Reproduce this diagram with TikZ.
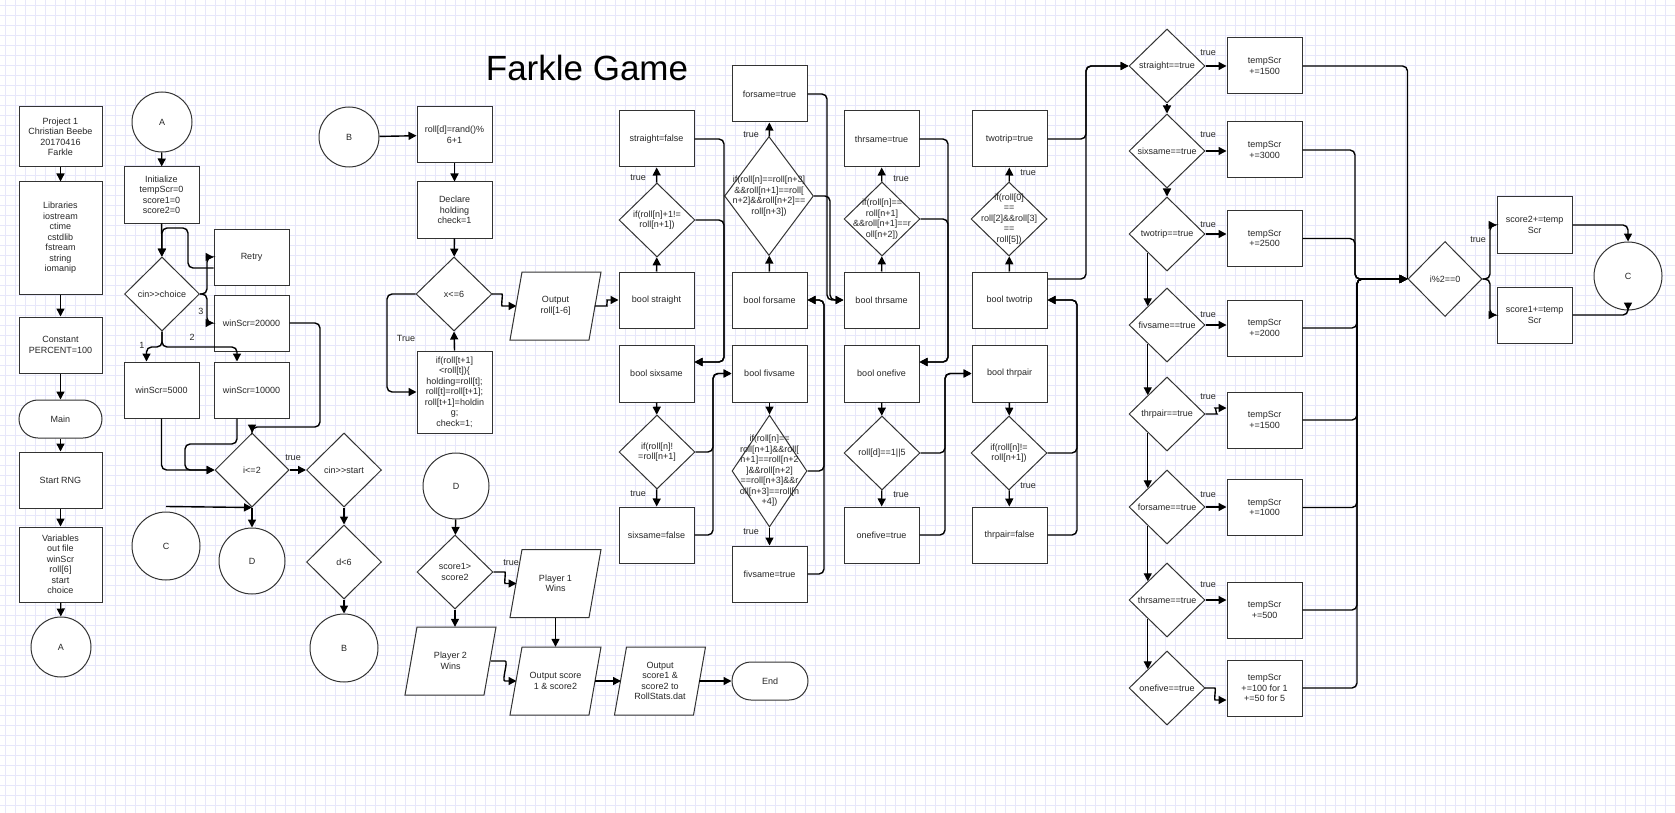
\documentclass[tikz,border=0pt]{standalone}
\usepackage{fontspec}
\setmainfont{Liberation Sans}
\usetikzlibrary{shapes.geometric,arrows.meta}
\definecolor{gridc}{RGB}{231,231,250}
\definecolor{edgec}{RGB}{51,51,51}
\newcommand{\mkpara}[3]{%
  \begin{scope}[shift={#2}]
    \draw[base] (-45.5,34) -- (33.5,34) -- (45.5,-34) -- (-33.5,-34) -- cycle;
  \end{scope}
  \node[rectangle, inner sep=0pt, minimum width=79pt, minimum height=68pt, txt={#3}] (#1) at #2 {};}
\begin{document}
\begin{tikzpicture}[x=1pt,y=-1pt,
  base/.style={draw=edgec, line width=1pt, fill=white, inner sep=0pt},
  box/.style={base, rectangle, minimum width=75pt, minimum height=56pt},
  dia/.style={base, diamond, minimum width=76pt, minimum height=74pt},
  circ/.style={base, circle, minimum size=#1},
  pill/.style={base, rectangle, rounded corners=19pt, minimum width=#1, minimum height=38pt},
  lbl/.style={align=center, font=\fontsize{9}{10.5}\selectfont, text=black!85, inner sep=0pt},
  txt/.style={label={[lbl]center:{#1}}},
  conn/.style={line width=1.4pt, rounded corners=5pt, -{Triangle[length=8pt,width=8pt]}},
  plain/.style={line width=1.4pt, rounded corners=5pt},
  tl/.style={font=\fontsize{9}{10}\selectfont, inner sep=0pt, text=black!85}
]
\useasboundingbox (0,0) rectangle (1675,813);
\fill[white] (0,0) rectangle (1675,813);
\foreach \i in {5,15,...,1675} \draw[gridc, line width=0.6pt] (\i,0) -- (\i,813);
\foreach \j in {5,15,...,813} \draw[gridc, line width=0.6pt] (0,\j) -- (1675,\j);

\node[font=\fontsize{35}{40}\selectfont, inner sep=0pt] (title) at (587,68) {Farkle Game};

% ---------- left column
\node[box, minimum width=83pt, minimum height=60pt, txt={Project 1\\Christian Beebe\\20170416\\Farkle}] (proj) at (60.5,137) {};
\node[box, minimum width=83pt, minimum height=112pt, txt={Libraries\\iostream\\ctime\\cstdlib\\fstream\\string\\iomanip}] (libs) at (60.5,238) {};
\node[box, minimum width=83pt, minimum height=56pt, txt={Constant\\PERCENT=100}] (const) at (60.5,345) {};
\node[pill=83pt, txt={Main}] (main) at (60.5,419) {};
\node[box, minimum width=83pt, minimum height=56pt, txt={Start RNG}] (rng) at (60.5,480) {};
\node[box, minimum width=83pt, minimum height=75pt, txt={Variables\\out file\\winScr\\roll[6]\\start\\choice}] (vars) at (60.5,564.5) {};
\node[circ=60pt, txt={A}] (cA1) at (61,647) {};
\draw[conn] (proj) -- (libs);
\draw[conn] (libs) -- (const);
\draw[conn] (const) -- (main);
\draw[conn] (main) -- (rng);
\draw[conn] (rng) -- (vars);
\draw[conn] (vars) -- (cA1);

% ---------- second column
\node[circ=60pt, txt={A}] (cA2) at (162,122) {};
\node[box, txt={Initialize\\tempScr=0\\score1=0\\score2=0}] (init) at (161.5,195) {};
\node[dia, minimum width=75pt, txt={cin>{}>choice}] (choice) at (162,294) {};
\node[box, txt={Retry}] (retry) at (251.5,257) {};
\node[box, txt={winScr=20000}] (w20) at (251.5,323) {};
\node[box, txt={winScr=5000}] (w5) at (161.5,390) {};
\node[box, txt={winScr=10000}] (w10) at (251.5,390) {};
\node[dia, minimum width=74pt, txt={i<=2}] (iLE) at (252,470) {};
\node[circ=68pt, txt={C}] (cC1) at (166,546) {};
\node[circ=66pt, txt={D}] (cD1) at (252,561) {};
\node[dia, minimum width=75pt, txt={cin>{}>start}] (start) at (344,470) {};
\node[dia, minimum width=75pt, txt={d<6}] (dlt) at (344,562) {};
\node[circ=68pt, txt={B}] (cB1) at (344,648) {};

\draw[conn] (cA2) -- (init);
\draw[conn] (init) -- (choice);
\draw[conn] ([yshift=-11pt]retry.west) -| (188,228) -| (choice.north);
\draw[conn] (choice.east) -| (207,257) -- (retry.west);
\draw[conn] (choice.east) -| (207,323) -- (w20.west);
\draw[conn] (choice.south) -- (162,347) -| ([xshift=-15pt]w5.north);
\draw[conn] (choice.south) -- (162,347) -| ([xshift=-14.5pt]w10.north);
\node[tl] (l3) at (201,311) {3};
\node[tl] (l2) at (192,337) {2};
\node[tl] (l1) at (142,345) {1};
\draw[conn] (w5.south) |- (iLE.west);
\draw[conn] ([xshift=-14.5pt]w10.south) |- (185,444) |- (iLE.west);
\draw[conn] (w20.east) -| (320,427) -| (iLE.north);
\draw[conn] (iLE.east) -- (start.west);
\node[tl] (ltrue1) at (293,458) {true};
\draw[conn] ([yshift=5pt]cC1.north) -- (iLE.south);
\draw[conn] (iLE.south) -- (cD1.north);
\draw[conn] (start.south) -- (dlt.north);
\draw[conn] (dlt.south) -- (cB1.north);

% ---------- third column
\node[circ=60pt, txt={B}] (cB2) at (349,137) {};
\node[box, txt={roll[d]=rand()\%\\6+1}] (rand) at (454.5,135) {};
\node[box, txt={Declare\\holding\\check=1}] (decl) at (454.5,210) {};
\node[dia, txt={x<=6}] (xle) at (454,294) {};
\node[box, minimum height=82pt, txt={if(roll[t+1]\\<roll[t])\{\\holding=roll[t];\\roll[t]=roll[t+1];\\roll[t+1]=holdin\\g;\\check=1;}] (sortb) at (454.5,392) {};
\mkpara{outroll}{(555.5,306)}{Output\\roll[1-6]}
\draw[conn] (cB2) -- (rand);
\draw[conn] (rand) -- (decl);
\draw[conn] (decl) -- (xle);
\draw[conn] (xle.west) -| (387,392) -- (sortb.west);
\node[tl] (ltrue2) at (406,338) {True};
\draw[conn] (sortb.north) -- (xle.south);
\draw[conn] (xle.east) -- (497,294) to[out=0,in=180] (507,306) -- ([xshift=-39pt]outroll.center);

% ---------- end section
\node[circ=66pt, txt={D}] (cD2) at (456,486) {};
\node[dia, txt={score1>\\score2}] (sc) at (455,572) {};
\mkpara{p1}{(555.5,583.5)}{Player 1\\Wins}
\mkpara{p2}{(450.5,661)}{Player 2\\Wins}
\mkpara{outsc}{(555.5,681)}{Output score\\1 \& score2}
\mkpara{outfile}{(660,681)}{Output\\score1 \&\\score2 to\\RollStats.dat}
\node[pill=76pt, txt={End}] (endn) at (770,681) {};
\draw[conn] (cD2) -- (sc);
\draw[conn] (sc.east) -- (500,572) to[out=0,in=180] (510,583.5) -- ([xshift=-39pt]p1.center);
\node[tl] (ltrue3) at (511,563) {true};
\draw[conn] (sc.south) -- (sc.south |- p2.north);
\draw[conn] (p1.south) -- (outsc.north);
\draw[conn] ([xshift=40pt]p2.center) -- (500,661) to[out=0,in=180] (510,681) -- ([xshift=-39pt]outsc.center);
\draw[conn] ([xshift=39pt]outsc.center) -- ([xshift=-39pt]outfile.center);
\draw[conn] ([xshift=39pt]outfile.center) -- (endn.west);

% ---------- check columns
\node[box, txt={straight=false}] (sfalse) at (656.5,139) {};
\node[dia, txt={if(roll[n]+1!=\\roll[n+1])}] (sdia) at (657,220) {};
\node[box, txt={bool straight}] (bstr) at (656.5,300) {};
\node[box, minimum height=57pt, txt={bool sixsame}] (bsix) at (656.5,373.5) {};
\node[dia, txt={if(roll[n]!\\=roll[n+1]}] (sixdia) at (657,452) {};
\node[box, txt={sixsame=false}] (sixfalse) at (656.5,535) {};

\node[box, txt={forsame=true}] (ftrue) at (769.5,94) {};
\node[dia, minimum width=89pt, minimum height=119pt, txt={if(roll[n]==roll[n+3]\\\&\&roll[n+1]==roll[\\n+2]\&\&roll[n+2]==\\roll[n+3])}] (fdia) at (769,196) {};
\node[box, txt={bool forsame}] (bfor) at (769.5,300) {};
\node[box, minimum height=57pt, txt={bool fivsame}] (bfiv) at (769.5,373.5) {};
\node[dia, minimum width=75pt, minimum height=112pt, txt={if(roll[n]==\\roll[n+1]\&\&roll[\\n+1]==roll[n+2\\]\&\&roll[n+2]\\==roll[n+3]\&\&r\\oll[n+3]==roll[n\\+4])}] (fivdia) at (769.5,471) {};
\node[box, txt={fivsame=true}] (fivtrue) at (769.5,574) {};

\node[box, txt={thrsame=true}] (thtrue) at (881.5,139) {};
\node[dia, txt={if(roll[n]==\\roll[n+1]\\\&\&roll[n+1]==r\\oll[n+2])}] (thdia) at (882,219) {};
\node[box, txt={bool thrsame}] (bthr) at (881.5,300) {};
\node[box, minimum height=57pt, txt={bool onefive}] (bone) at (881.5,373.5) {};
\node[dia, txt={roll[d]==1||5}] (onedia) at (882,453) {};
\node[box, txt={onefive=true}] (onetrue) at (881.5,535) {};

\node[box, txt={twotrip=true}] (tttrue) at (1009.5,139) {};
\node[dia, txt={if(roll[0]\\==\\roll[2]\&\&roll[3]\\==\\roll[5])}] (ttdia) at (1009,219) {};
\node[box, txt={bool twotrip}] (btt) at (1009.5,300) {};
\node[box, minimum height=57pt, txt={bool thrpair}] (bthp) at (1009.5,373.5) {};
\node[dia, txt={if(roll[n]!=\\roll[n+1])}] (thpdia) at (1009,453) {};
\node[box, txt={thrpair=false}] (thpfalse) at (1009.5,535) {};

\draw[conn] ([xshift=39pt]outroll.center) -- (602,306) to[out=0,in=180] (612,300) -- (bstr.west);

% column 1 connectors
\draw[conn] (bstr) -- (sdia);
\draw[conn] (sdia) -- (sfalse);
\node[tl] (lt4) at (638,178) {true};
\draw[conn] (sfalse.east) -| (724,362) -- ([yshift=11.5pt]bsix.east);
\draw[conn] (sdia.east) -| (724,362) -- ([yshift=11.5pt]bsix.east);
\draw[conn] (bsix) -- (sixdia);
\draw[conn] (sixdia) -- (sixfalse);
\node[tl] (lt5) at (638,494) {true};
\draw[conn] (sixdia.east) -| (713,373.5) -- (bfiv.west);
\draw[conn] (sixfalse.east) -| (713,373.5) -- (bfiv.west);
% column 2 connectors
\draw[conn] (bfor) -- (fdia);
\draw[conn] (fdia) -- (ftrue);
\node[tl] (lt6) at (751,135) {true};
\draw[conn] (ftrue.east) -| (827,300) -- (bthr.west);
\draw[conn] (fdia.east) -| (830,300) -- (bthr.west);
\draw[conn] (bfiv) -- (fivdia);
\draw[conn] (fivdia) -- (fivtrue);
\node[tl] (lt7) at (751,532) {true};
\draw[conn] (fivdia.east) -| (824,300) -- (bfor.east);
\draw[conn] (fivtrue.east) -| (824,300) -- (bfor.east);
% column 3 connectors
\draw[conn] (bthr) -- (thdia);
\draw[conn] (thdia) -- (thtrue);
\node[tl] (lt8) at (901,179) {true};
\draw[conn] (thtrue.east) -| (948,362) -- ([yshift=11.5pt]bone.east);
\draw[conn] (thdia.east) -| (948,362) -- ([yshift=11.5pt]bone.east);
\draw[conn] (bone) -- (onedia);
\draw[conn] (onedia) -- (onetrue);
\node[tl] (lt9) at (901,495) {true};
\draw[conn] (onedia.east) -| (945,373.5) -- (bthp.west);
\draw[conn] (onetrue.east) -| (945,373.5) -- (bthp.west);
% column 4 connectors
\draw[conn] (btt) -- (ttdia);
\draw[conn] (ttdia) -- (tttrue);
\node[tl] (lt10) at (1028,173) {true};
\draw[conn] (bthp) -- (thpdia);
\draw[conn] (thpdia) -- (thpfalse);
\node[tl] (lt11) at (1028,486) {true};
\draw[conn] (thpdia.east) -| (1077,300) -- (btt.east);
\draw[conn] (thpfalse.east) -| (1077,300) -- (btt.east);

% ---------- scoring
\node[dia, txt={straight==true}] (strd) at (1167,66) {};
\node[dia, txt={sixsame==true}] (sixd) at (1167,151) {};
\node[dia, txt={twotrip==true}] (ttd) at (1167,234) {};
\node[dia, txt={fivsame==true}] (fivd) at (1167,325) {};
\node[dia, txt={thrpair==true}] (thpd) at (1167,414) {};
\node[dia, txt={forsame==true}] (ford) at (1167,507) {};
\node[dia, txt={thrsame==true}] (thsd) at (1167,600) {};
\node[dia, txt={onefive==true}] (oned) at (1167,688) {};
\node[box, txt={tempScr\\+=1500}] (t1) at (1264.5,66) {};
\node[box, txt={tempScr\\+=3000}] (t2) at (1264.5,150) {};
\node[box, txt={tempScr\\+=2500}] (t3) at (1264.5,238.5) {};
\node[box, txt={tempScr\\+=2000}] (t4) at (1264.5,328) {};
\node[box, txt={tempScr\\+=1500}] (t5) at (1264.5,420) {};
\node[box, txt={tempScr\\+=1000}] (t6) at (1264.5,507.5) {};
\node[box, txt={tempScr\\+=500}] (t7) at (1264.5,610) {};
\node[box, txt={tempScr\\+=100 for 1\\+=50 for 5}] (t8) at (1264.5,688) {};

\draw[conn] ([yshift=21pt]btt.east) -| (1086,66) -- (strd.west);
\draw[conn] (tttrue.east) -| (1086,66) -- (strd.west);

\draw[conn] (strd) -- (sixd);
\draw[conn] (sixd) -- (ttd);
\draw[conn] (ttd.south west) -- (fivd.north west);
\draw[conn] (fivd.south west) -- (thpd.north west);
\draw[conn] (thpd.south west) -- (ford.north west);
\draw[conn] (ford.south west) -- (thsd.north west);
\draw[conn] (thsd.south west) -- (oned.north west);

\draw[conn] (strd.east) -- (strd.east -| t1.west);
\draw[conn] (sixd.east) -- (sixd.east -| t2.west);
\draw[conn] (ttd.east) -- (ttd.east -| t3.west);
\draw[conn] (fivd.east) -- (fivd.east -| t4.west);
\draw[conn] (thpd.east) -- (1212,414) to[out=0,in=180] (1220,408) -- ([yshift=12pt]t5.west);
\draw[conn] (ford.east) -- (ford.east -| t6.west);
\draw[conn] (thsd.east) -- (thsd.east -| t7.west);
\draw[conn] (oned.east) -- (1210,688) to[out=0,in=180] (1220,700) -- ([yshift=-12pt]t8.west);
\node[tl] (s1) at (1208,53) {true};
\node[tl] (s2) at (1208,135) {true};
\node[tl] (s3) at (1208,225) {true};
\node[tl] (s4) at (1208,315) {true};
\node[tl] (s5) at (1208,397) {true};
\node[tl] (s6) at (1208,495) {true};
\node[tl] (s7) at (1208,585) {true};

% ---------- final
\node[dia, minimum width=74pt, minimum height=75pt, txt={i\%2==0}] (i2) at (1445,279) {};
\node[box, txt={score2+=temp\\Scr}] (sc2) at (1534.5,225) {};
\node[box, txt={score1+=temp\\Scr}] (sc1) at (1534.5,315) {};
\node[circ=68pt, txt={C}] (cC2) at (1628,276) {};

\draw[plain] (t1.east) -| (i2.west);
\draw[conn] (t2.east) -| (1355,279) -- (i2.west);
\draw[conn] (t3.east) -| (1355,279) -- (i2.west);
\draw[conn] (t4.east) -| (1357,279) -- (i2.west);
\draw[conn] (t5.east) -| (1357,279) -- (i2.west);
\draw[conn] (t6.east) -| (1357,279) -- (i2.west);
\draw[conn] (t7.east) -| (1357,279) -- (i2.west);
\draw[conn] (t8.east) -| (1357,279) -- (i2.west);

\draw[conn] (i2.east) -| (1490,225) -- (sc2.west);
\draw[conn] (i2.east) -| (1490,315) -- (sc1.west);
\node[tl] (s8) at (1478,240) {true};
\draw[conn] (sc2.east) -| (cC2.north);
\draw[conn] (sc1.east) -| (cC2.south);
\end{tikzpicture}
\end{document}
